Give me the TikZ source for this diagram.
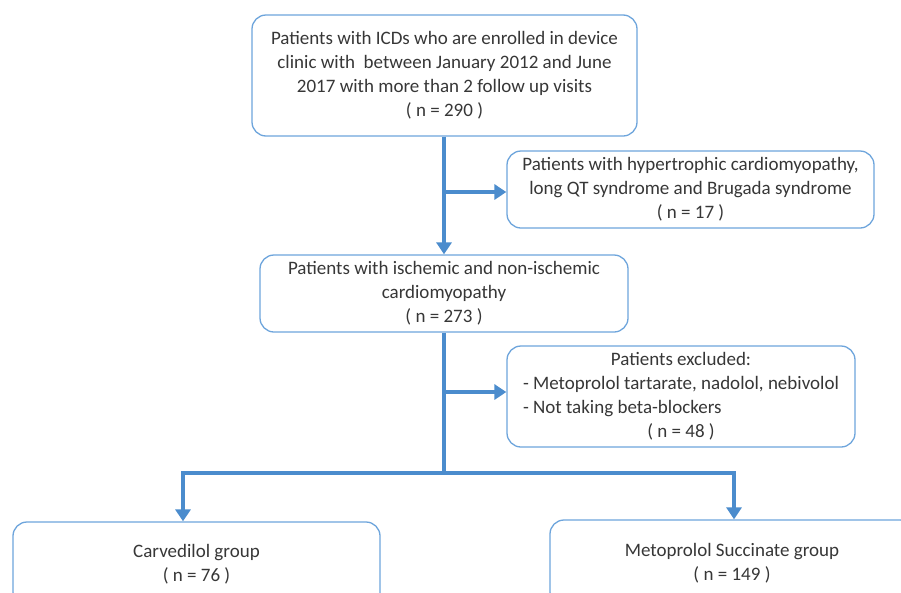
\documentclass[tikz,border=0pt]{standalone}
\usepackage{fontspec}
\setmainfont{Carlito}
\usetikzlibrary{arrows.meta}
\definecolor{boxblue}{RGB}{110,165,220}
\definecolor{arrblue}{RGB}{75,140,205}
\definecolor{txt}{RGB}{55,55,55}
\tikzset{
  fbox/.style={draw=boxblue, line width=1.3pt, rounded corners=14pt, align=center,
    text=txt, font=\fontsize{19}{24}\selectfont, inner sep=0pt},
  flow/.style={draw=arrblue, line width=3.6pt},
  flowarr/.style={flow, -{Triangle[width=15pt,length=12pt]}}
}
\begin{document}
\begin{tikzpicture}[x=1pt,y=-1pt]
\clip (0,0) rectangle (901,592);
\fill[white] (0,0) rectangle (901,592);
\node[fbox, minimum width=385pt, minimum height=121pt] (b1) at (444.5,75.5)
  {Patients with ICDs who are enrolled in device\\clinic with \ between January 2012 and June\\2017 with more than 2 follow up visits\\( n = 290 )};
\node[fbox, minimum width=367pt, minimum height=77pt] (b2) at (690.5,189.5)
  {Patients with hypertrophic cardiomyopathy,\\long QT syndrome and Brugada syndrome\\( n = 17 )};
\node[fbox, minimum width=368pt, minimum height=77pt] (b3) at (444,293.5)
  {Patients with ischemic and non-ischemic\\cardiomyopathy\\( n = 273 )};
\node[fbox, minimum width=348pt, minimum height=101pt] (b4) at (681,396.5)
  {\begin{tabular}{@{}l@{}}\multicolumn{1}{@{}c@{}}{Patients excluded:}\\- Metoprolol tartarate, nadolol, nebivolol\\- Not taking beta-blockers\\\multicolumn{1}{@{}c@{}}{( n = 48 )}\end{tabular}};
\node[fbox, minimum width=367pt, minimum height=84pt] (b5) at (196.5,564)
  {Carvedilol group\\( n = 76 )};
\node[fbox, minimum width=364pt, minimum height=86pt] (b6) at (732,563)
  {Metoprolol Succinate group\\( n = 149 )};
\coordinate (c1) at (444,192);
\coordinate (c2) at (444,392);
\coordinate (j) at (444,473);
\coordinate (jl) at (183,473);
\coordinate (jr) at (734,473);
\draw[flowarr] (c1 |- b1.south) -- (c1 |- b3.north);
\draw[flowarr] (c1) -- (c1 -| b2.west);
\draw[flow] (c2 |- b3.south) -- (j);
\draw[flowarr] (c2) -- (c2 -| b4.west);
\draw[flow, line cap=rect] (jl) -- (jr);
\draw[flowarr] (jl) -- (jl |- b5.north);
\draw[flowarr] (jr) -- (jr |- b6.north);
\end{tikzpicture}
\end{document}
